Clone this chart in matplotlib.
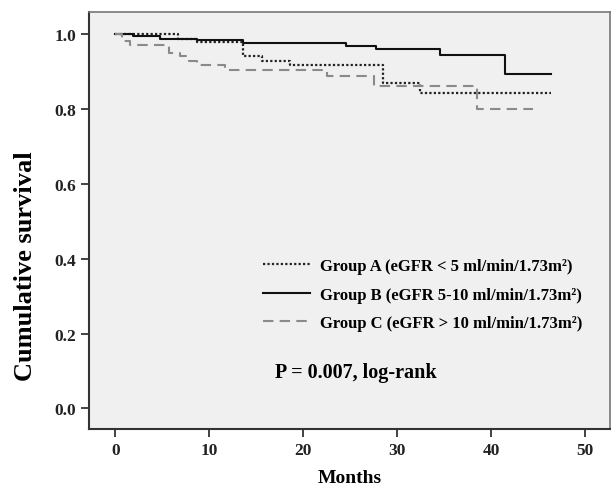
import matplotlib
matplotlib.use("Agg")
import matplotlib.pyplot as plt

# step times (months) and survival for each group
a_t = [0, 6.7, 8.7, 13.6, 15.6, 18.6, 28.5, 32.4, 46.4]
a_s = [1.0, 0.988, 0.980, 0.943, 0.930, 0.918, 0.870, 0.843, 0.843]

b_t = [0, 1.9, 4.8, 8.7, 13.6, 24.6, 27.7, 34.6, 41.5, 46.4]
b_s = [1.0, 0.995, 0.988, 0.984, 0.977, 0.970, 0.960, 0.946, 0.895, 0.895]

c_t = [0, 0.7, 1.6, 5.7, 6.9, 7.8, 8.7, 11.7, 22.5, 27.5, 38.5, 44.5]
c_s = [1.0, 0.982, 0.973, 0.950, 0.942, 0.930, 0.917, 0.904, 0.888, 0.862, 0.800, 0.800]

labels = ["Group A (eGFR < 5 ml/min/1.73m²)",
          "Group B (eGFR 5-10 ml/min/1.73m²)",
          "Group C (eGFR > 10 ml/min/1.73m²)"]

plt.rcParams["font.family"] = ["Liberation Serif", "DejaVu Serif"]
plt.rcParams["font.weight"] = "bold"

fig = plt.figure(figsize=(6.11, 4.89), dpi=100)
ax = fig.add_axes([0.1457, 0.1207, 0.852, 0.8527])
ax.set_facecolor("#f0f0f0")

ax.step(a_t, a_s, where="post", color="#222222", lw=1.6, ls=(0, (1, 1)), label=labels[0])
ax.step(b_t, b_s, where="post", color="#111111", lw=1.5, ls="-", label=labels[1])
ax.step(c_t, c_s, where="post", color="#8a8a8a", lw=1.5, ls=(0, (5, 3)), label=labels[2])

ax.set_xlim(-2.8, 52.6)
ax.set_ylim(-0.055, 1.06)
ax.set_xticks(range(0, 51, 10))
ax.set_yticks([0.0, 0.2, 0.4, 0.6, 0.8, 1.0])
ax.set_yticklabels(["0.0", "0.2", "0.4", "0.6", "0.8", "1.0"])
ax.tick_params(labelsize=12.5, length=6, width=1.2, colors="#222222")

for side in ["left", "bottom"]:
    ax.spines[side].set_color("#333333")
    ax.spines[side].set_linewidth(1.5)
for side in ["top", "right"]:
    ax.spines[side].set_color("#777777")
    ax.spines[side].set_linewidth(1.2)

ax.set_xlabel("Months", fontsize=14, fontweight="bold", labelpad=8)
ax.set_ylabel("Cumulative survival", fontsize=19, fontweight="bold")
ax.yaxis.set_label_coords(-0.1, 0.392)

ax.legend(loc="upper left", bbox_to_anchor=(0.335, 0.41), frameon=False,
          fontsize=12, handlelength=2.8, handletextpad=0.6, labelspacing=0.75,
          borderpad=0, borderaxespad=0)

ax.text(0.357, 0.137, "P = 0.007, log-rank", transform=ax.transAxes,
        fontsize=14.5, fontweight="bold", va="center")

fig.savefig("out.png", dpi=100)
